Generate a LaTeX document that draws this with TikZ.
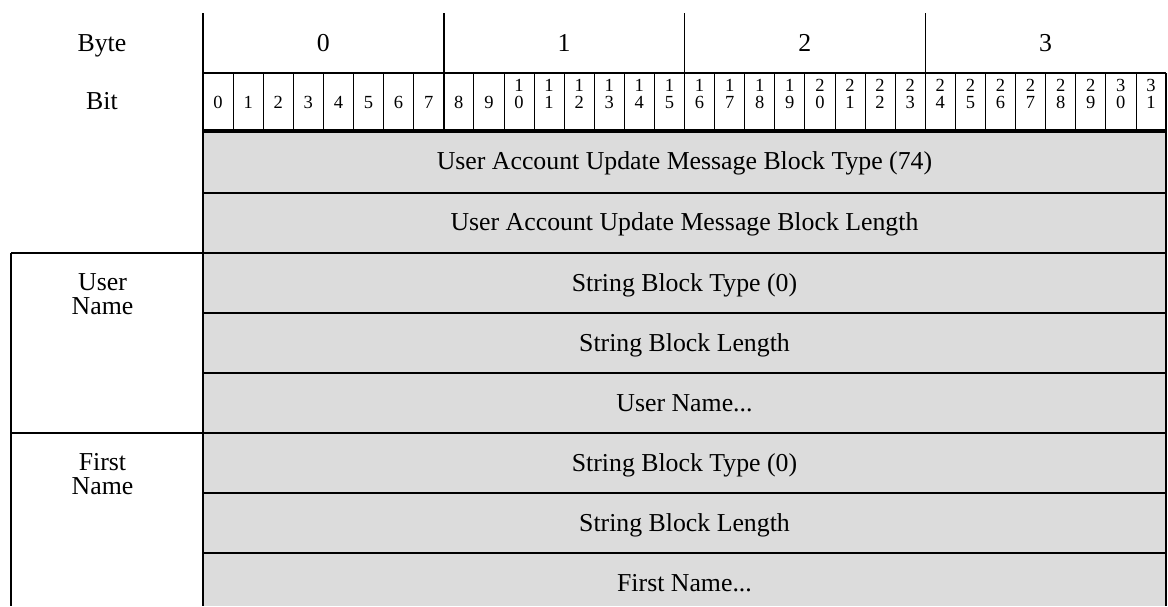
\documentclass[tikz,border=0pt]{standalone}
\usepackage{fontspec}
\setmainfont{Liberation Serif}
\definecolor{cellgray}{RGB}{220,220,220}
\begin{document}
\begin{tikzpicture}[x=1pt,y=-1pt,
  big/.style={font=\fontsize{25.8}{23}\selectfont, inner sep=0pt},
  bitlbl/.style={font=\fontsize{18.5}{16.7}\selectfont, inner sep=0pt, align=center, anchor=south},
  rowtxt/.style={big, anchor=base},
  sidelbl/.style={font=\fontsize{25.8}{24.5}\selectfont, inner sep=0pt, align=center, anchor=north},
  rule/.style={line width=1.5pt},
  thinrule/.style={line width=0.8pt},
  heavyrule/.style={line width=3.5pt}]
\useasboundingbox (0,0) rectangle (1168,606);
% gray field area
\fill[cellgray] (203,131) rectangle (1166,606);
% bit dividers
\foreach \i in {1,...,31}{
  \draw[thinrule] ({203+\i*30.09375},73) -- ({203+\i*30.09375},131);
}
% byte dividers
\foreach \i in {1,2,3}{
  \draw[rule] ({203+\i*240.75},13) -- ({203+\i*240.75},131);
}
\draw[rule] (203,13) -- (203,606);
\draw[rule] (203,73) -- (1166,73);
\draw[rule] (1166,73) -- (1166,606);
\draw[heavyrule] (203,131) -- (1166,131);
\foreach \y in {193,313,373,493,553}{
  \draw[rule] (203,\y) -- (1166,\y);
}
\draw[rule] (11,253) -- (1166,253);
\draw[rule] (11,433) -- (1166,433);
\draw[rule] (11,253) -- (11,606);
% header labels
\node[big, anchor=base] (byte) at (102,51.5) {Byte};
\node[big, anchor=base] (bit) at (102,109.5) {Bit};
\foreach \k in {0,1,2,3}{
  \node[big, anchor=base] (B\k) at ({203+(\k+0.5)*240.75},51.5) {\k};
}
\foreach \i in {0,...,31}{
  \pgfmathtruncatemacro{\tens}{int(\i/10)}
  \pgfmathtruncatemacro{\units}{\i-10*\tens}
  \ifnum\i<10
    \node[bitlbl] (b\i) at ({203+(\i+0.5)*30.09375},108.5) {\i};
  \else
    \node[bitlbl] (b\i) at ({203+(\i+0.5)*30.09375},108.5) {\tens\\\units};
  \fi
}
% row texts
\node[rowtxt] (r1) at (684.5,169) {User Account Update Message Block Type (74)};
\node[rowtxt] (r2) at (684.5,230) {User Account Update Message Block Length};
\node[rowtxt] (r3) at (684.5,291) {String Block Type (0)};
\node[rowtxt] (r4) at (684.5,351) {String Block Length};
\node[rowtxt] (r5) at (684.5,411) {User Name...};
\node[rowtxt] (r6) at (684.5,471) {String Block Type (0)};
\node[rowtxt] (r7) at (684.5,531) {String Block Length};
\node[rowtxt] (r8) at (684.5,591) {First Name...};
% side labels
\node[sidelbl] (un) at (102.5,273) {User\\Name};
\node[sidelbl] (fn) at (102.5,453) {First\\Name};
\end{tikzpicture}
\end{document}
